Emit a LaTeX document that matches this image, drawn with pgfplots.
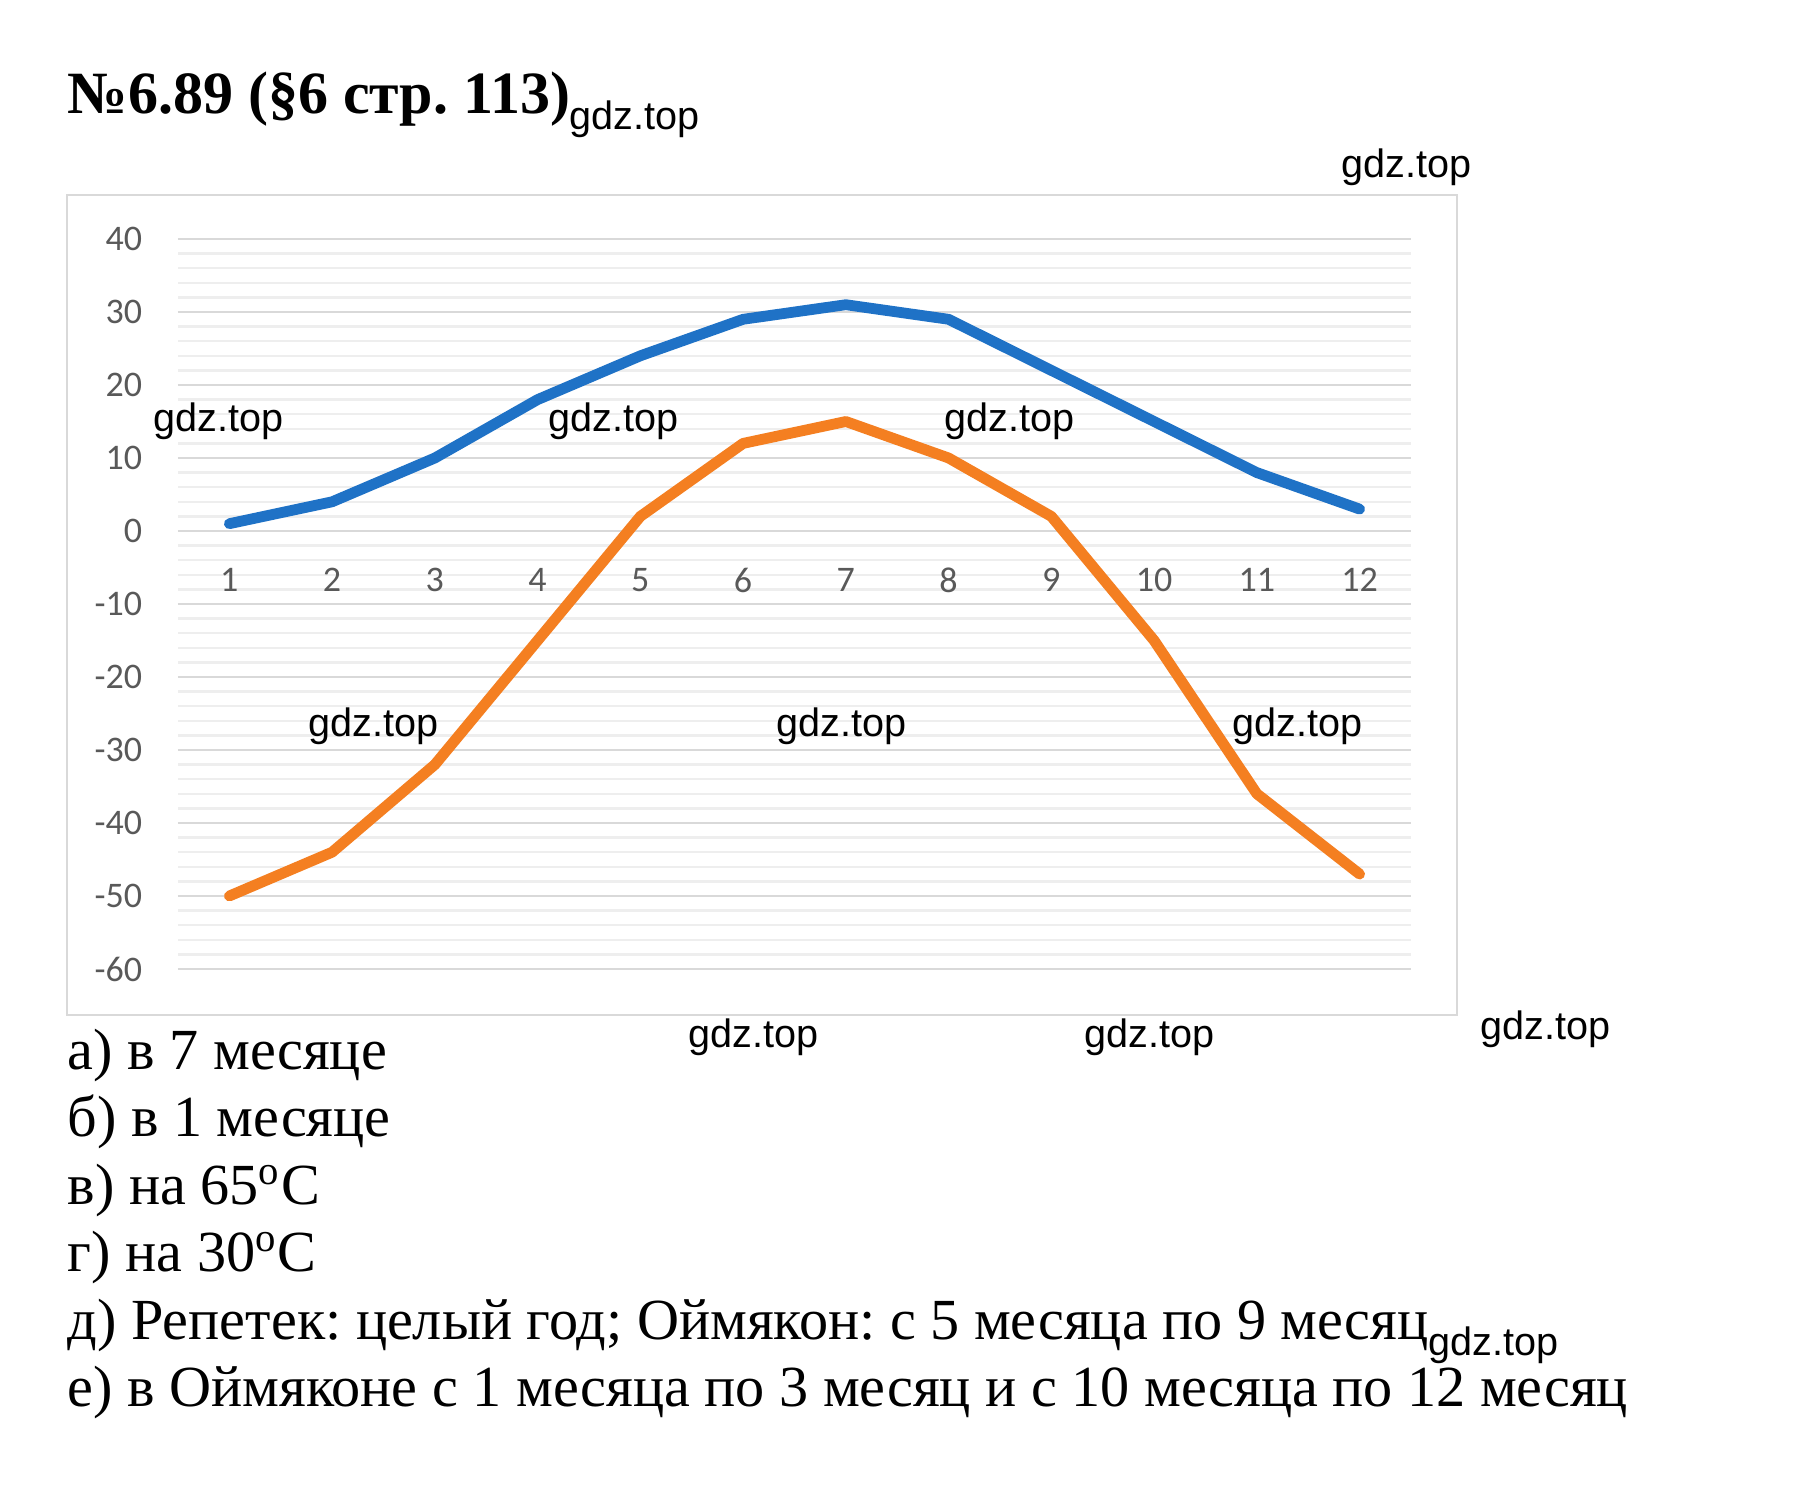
\documentclass[border=0pt]{standalone}
\usepackage{pgfplots}
\pgfplotsset{compat=1.18}
\usepackage{fontspec}
\setmainfont{Liberation Serif}
\newfontfamily\calib{Carlito}
\newfontfamily\arial{Liberation Sans}
\frenchspacing

\definecolor{blueline}{HTML}{1F72C6}
\definecolor{orangeline}{HTML}{F47F21}
\definecolor{gridmaj}{HTML}{D9D9D9}
\definecolor{gridmin}{HTML}{EEEEEE}
\definecolor{ticktxt}{HTML}{595959}

% watermark text
\newcommand{\wm}{{\arial\fontsize{9.9pt}{11pt}\selectfont gdz.top}}

\begin{document}
\begin{tikzpicture}
\begin{axis}[
  scale only axis,
  width=308.25pt, height=182.5pt,
  xmin=0.5, xmax=12.5, ymin=-60, ymax=40,
  axis x line*=middle, axis y line*=left,
  axis line style={draw=none},
  hide obscured x ticks=false, hide obscured y ticks=false,
  xtick={1,2,3,4,5,6,7,8,9,10,11,12},
  xticklabels={1,2,3,4,5,6,7,8,9,10,11,12},
  ytick={-60,-50,-40,-30,-20,-10,0,10,20,30,40},
  yticklabels={-60,-50,-40,-30,-20,-10,0,10,20,30,40},
  minor y tick num=4,
  ymajorgrids, yminorgrids,
  major grid style={draw=gridmaj, line width=0.6pt},
  minor grid style={draw=gridmin, line width=0.6pt},
  major tick length=0pt, minor tick length=0pt,
  tick style={draw=none},
  ticklabel style={font=\calib\fontsize{9pt}{10.5pt}\selectfont, text=ticktxt, inner sep=0pt},
  xticklabel style={anchor=center, yshift=-12.25pt},
  yticklabel style={anchor=east, xshift=-8.75pt},
  clip=false,
]
\addplot[blueline, line width=2.7pt, line cap=round, line join=round]
  coordinates {(1,1) (2,4) (3,10) (4,18) (5,24) (6,29) (7,31) (8,29) (9,22) (10,15) (11,8) (12,3)};
\addplot[orangeline, line width=2.7pt, line cap=round, line join=round]
  coordinates {(1,-50) (2,-44) (3,-32) (4,-15) (5,2) (6,12) (7,15) (8,10) (9,2) (10,-15) (11,-36) (12,-47)};
\end{axis}

% page coordinates in reference pixels, origin top left
\begin{scope}[x=0.25pt, y=-0.25pt, shift={(-44.5pt,242.25pt)}]
  \useasboundingbox (0,0) rectangle (1803,1487);
  \draw[gridmaj, line width=0.6pt] (67,195) rectangle (1457,1015);

  \node[anchor=base west, inner sep=0pt] at (67,114)
    {{\fontsize{15pt}{18pt}\selectfont\bfseries №6.89 (§6 стр. 113)}\raisebox{-4pt}{\wm}};

  \foreach \x/\y in {1341/178, 153/432, 548/432, 944/432, 308/737, 776/737, 1232/737,
                     688/1048, 1084/1048, 1480/1040}
    \node[anchor=base west, inner sep=0pt] at (\x,\y) {\wm};

  \begin{scope}[every node/.style={anchor=base west, inner sep=0pt,
      font=\fontsize{14.55pt}{17.5pt}\selectfont}]
    \node at (67,1070) {а) в 7 месяце};
    \node at (67,1137) {б) в 1 месяце};
    \node at (67,1205) {в) на 65\textsuperscript{o}C};
    \node at (67,1272) {г) на 30\textsuperscript{o}C};
    \node at (67,1340) {д) Репетек: целый год; Оймякон: с 5 месяца по 9 месяц\raisebox{-4pt}{\wm}};
    \node at (67,1407) {е) в Оймяконе с 1 месяца по 3 месяц и с 10 месяца по 12 месяц};
  \end{scope}
\end{scope}
\end{tikzpicture}
\end{document}
